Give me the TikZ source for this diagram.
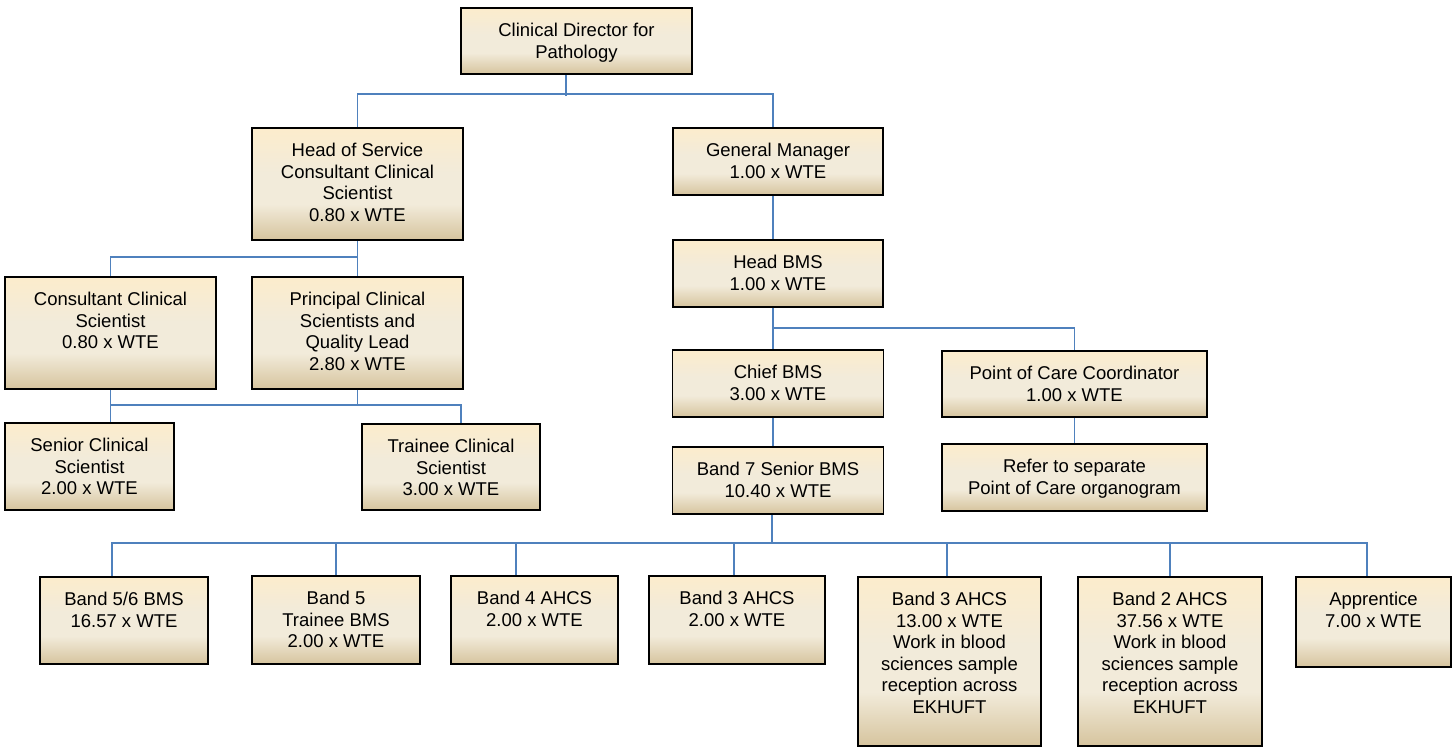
\documentclass[tikz,border=0pt]{standalone}
\usepackage{fontspec}
\setmainfont{Liberation Sans}
\definecolor{boxtop}{HTML}{FCECCC}
\definecolor{boxmid}{HTML}{F2EBDA}
\definecolor{boxbot}{HTML}{D6C49E}
\definecolor{linkblue}{HTML}{4F81BD}
\pgfdeclareverticalshading{boxshade}{100bp}{color(0bp)=(boxbot); color(25bp)=(boxbot); color(41bp)=(boxmid); color(55bp)=(boxmid); color(75bp)=(boxtop); color(100bp)=(boxtop)}
\begin{document}
\begin{tikzpicture}[x=1pt, y=-1pt,
	box/.style = {draw=black, line width=1.8pt, shading=boxshade, inner sep=0pt},
	txt/.style = {anchor=north, yshift=-16pt, align=center, inner sep=0pt, font=\fontsize{18.5}{21.5}\selectfont},
	link/.style = {draw=linkblue, line width=1.8pt}]
			\useasboundingbox (0,0) rectangle (1456,747);
			
			% top levels
			\node[box, minimum width=231, minimum height=66] (dir) at (576.5,41) {};
			\node[txt] (dir-t) at (dir.north) {Clinical Director for\\Pathology};
			\node[box, minimum width=211, minimum height=112] (hos) at (357.5,184) {};
			\node[txt] (hos-t) at (hos.north) {Head of Service\\Consultant Clinical\\Scientist\\0.80 x WTE};
			\node[box, minimum width=210, minimum height=67] (gm) at (778,161.5) {};
			\node[txt] (gm-t) at (gm.north) {General Manager\\1.00 x WTE};
			\node[box, minimum width=210, minimum height=67] (hbms) at (778,273.5) {};
			\node[txt] (hbms-t) at (hbms.north) {Head BMS\\1.00 x WTE};
			
			% clinical scientists
			\node[box, minimum width=211, minimum height=112] (ccs) at (110.5,333) {};
			\node[txt] (ccs-t) at (ccs.north) {Consultant Clinical\\Scientist\\0.80 x WTE};
			\node[box, minimum width=211, minimum height=112] (pcs) at (357.5,333) {};
			\node[txt] (pcs-t) at (pcs.north) {Principal Clinical\\Scientists and\\Quality Lead\\2.80 x WTE};
			\node[box, minimum width=169, minimum height=87] (scs) at (89.5,466.5) {};
			\node[txt] (scs-t) at (scs.north) {Senior Clinical\\Scientist\\2.00 x WTE};
			\node[box, minimum width=178, minimum height=86] (tcs) at (451,467) {};
			\node[txt] (tcs-t) at (tcs.north) {Trainee Clinical\\Scientist\\3.00 x WTE};
			
			% BMS column
			\node[box, minimum width=211, minimum height=67] (chief) at (778,383.5) {};
			\node[txt] (chief-t) at (chief.north) {Chief BMS\\3.00 x WTE};
			\node[box, minimum width=265, minimum height=66] (poc) at (1074.5,384) {};
			\node[txt] (poc-t) at (poc.north) {Point of Care Coordinator\\1.00 x WTE};
			\node[box, minimum width=265, minimum height=67] (refer) at (1074.5,477.5) {};
			\node[txt] (refer-t) at (refer.north) {Refer to separate\\Point of Care organogram};
			\node[box, minimum width=211, minimum height=67] (b7) at (778,480.5) {};
			\node[txt] (b7-t) at (b7.north) {Band 7 Senior BMS\\10.40 x WTE};
			
			% bottom row
			\node[box, minimum width=168, minimum height=87] (b56) at (124,620.5) {};
			\node[txt] (b56-t) at (b56.north) {Band 5/6 BMS\\16.57 x WTE};
			\node[box, minimum width=168, minimum height=88] (b5) at (336,620) {};
			\node[txt] (b5-t) at (b5.north) {Band 5\\Trainee BMS\\2.00 x WTE};
			\node[box, minimum width=167, minimum height=88] (b4) at (534.5,620) {};
			\node[txt] (b4-t) at (b4.north) {Band 4 AHCS\\2.00 x WTE};
			\node[box, minimum width=176, minimum height=88] (b3) at (737,620) {};
			\node[txt] (b3-t) at (b3.north) {Band 3 AHCS\\2.00 x WTE};
			\node[box, minimum width=183, minimum height=169] (b3r) at (949.5,661.5) {};
			\node[txt] (b3r-t) at (b3r.north) {Band 3 AHCS\\13.00 x WTE\\Work in blood\\sciences sample\\reception across\\EKHUFT};
			\node[box, minimum width=184, minimum height=169] (b2) at (1170,661.5) {};
			\node[txt] (b2-t) at (b2.north) {Band 2 AHCS\\37.56 x WTE\\Work in blood\\sciences sample\\reception across\\EKHUFT};
			\node[box, minimum width=155, minimum height=90] (app) at (1373.5,622) {};
			\node[txt] (app-t) at (app.north) {Apprentice\\7.00 x WTE};
			
			% connectors
			\draw[link] ([xshift=-10.5pt]dir.south) -- ++(0,21);
			\draw[link] (hos.north) -- ++(0,-33) -| ([xshift=-5pt]gm.north);
			\draw[link] (hos) -- (pcs);
			\draw[link] ([yshift=-16pt]hos.south) -| (ccs.north);
			\draw[link] (ccs.south) -- (ccs.south |- scs.north);
			\draw[link] ([yshift=-15pt]ccs.south) -| ([xshift=10pt]tcs.north);
			\draw[link] (pcs.south) -- ++(0,15);
			
			\draw[link] ([xshift=-5pt]gm.south) -- ([xshift=-5pt]hbms.north);
			\draw[link] ([xshift=-5pt]hbms.south) -- ([xshift=-5pt]chief.north);
			\draw[link] ([xshift=-5pt,yshift=-20pt]hbms.south) -| (poc.north);
			\draw[link] (poc) -- (refer);
			\draw[link] ([xshift=-5pt]chief.south) -- ([xshift=-5pt]b7.north);
			
			\coordinate (bus) at ([xshift=-6pt,yshift=-28pt]b7.south);
			\draw[link] ([xshift=-6pt]b7.south) -- (bus);
			\draw[link] ([xshift=-12pt]b56.north) |- (bus) -| ([xshift=-6.5pt]app.north);
			\draw[link] (b5.north) -- (b5.north |- bus);
			\draw[link] ([xshift=-18.5pt]b4.north) -- ([xshift=-18.5pt]b4.north |- bus);
			\draw[link] ([xshift=-3pt]b3.north) -- ([xshift=-3pt]b3.north |- bus);
			\draw[link] ([xshift=-2.5pt]b3r.north) -- ([xshift=-2.5pt]b3r.north |- bus);
			\draw[link] (b2.north) -- (b2.north |- bus);
			
\end{tikzpicture}
\end{document}
